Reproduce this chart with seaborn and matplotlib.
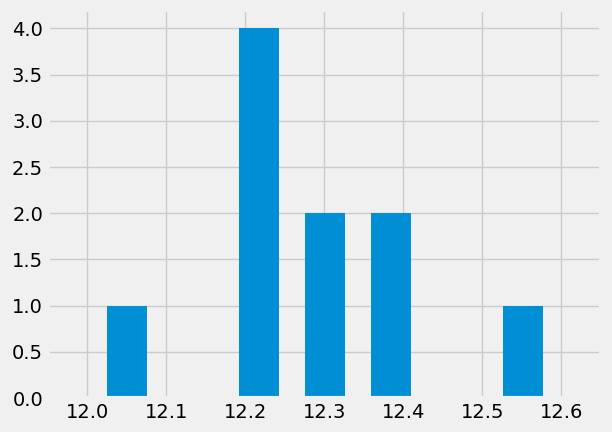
import numpy as np
import pandas as pd
import matplotlib
matplotlib.use('Agg')
import matplotlib.pyplot as plt
import seaborn as sns

values = [12.008, 12.19, 12.21, 12.22, 12.24, 12.28, 12.32, 12.36, 12.40, 12.593]
n_bins = 7

plt.style.use('fivethirtyeight')
df = pd.DataFrame({'value': values})

fig = plt.figure(figsize=(6.12, 4.32), dpi=100)
ax = fig.add_axes([0.0784, 0.0787, 0.9036, 0.8981])
sns.histplot(data=df, x='value', bins=n_bins, shrink=0.6, color='#008fd5',
             alpha=1, linewidth=0, ax=ax)
ax.set_xlim(11.95, 12.65)
ax.set_xlabel('')
ax.set_ylabel('')
ax.set_yticks(np.arange(0, 4.01, 0.5))
fig.savefig('out.png', dpi=100, facecolor='#f0f0f0')
